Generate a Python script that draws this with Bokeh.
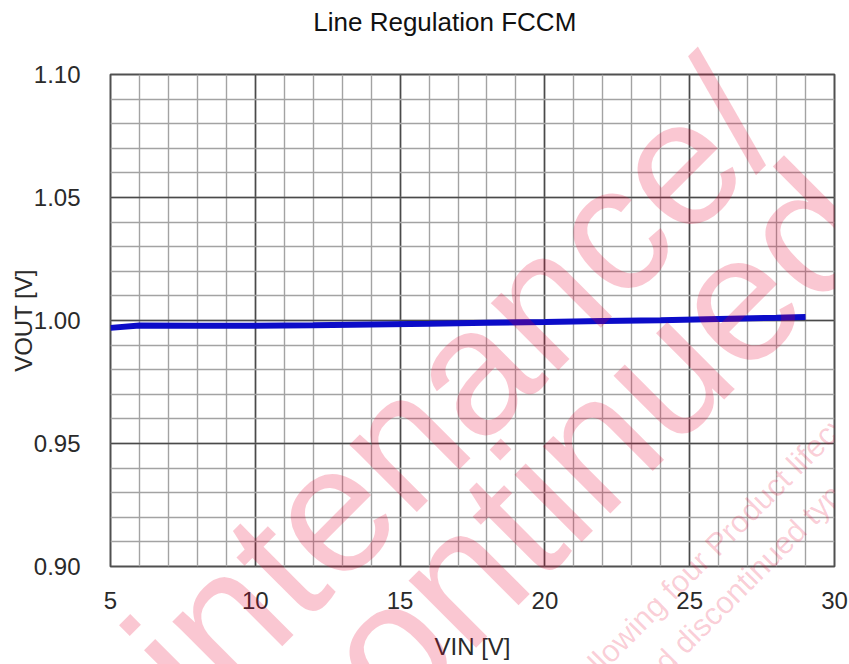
import math
from bokeh.plotting import figure
from bokeh.models import FixedTicker, Range1d
from bokeh.layouts import column
from bokeh.core.properties import value
from bokeh.embed import file_html
from bokeh.resources import INLINE

# ---- data ----
vin = [5, 6, 8, 10, 12, 14, 16, 18, 20, 22, 24, 26, 28, 29]
vout = [0.9970, 0.9980, 0.9979, 0.9979, 0.9981, 0.9984, 0.9987, 0.9991,
        0.9994, 0.9998, 1.0001, 1.0006, 1.0011, 1.0014]

x_major = [5, 10, 15, 20, 25, 30]
x_minor = list(range(5, 31))
y_major = [0.90, 0.95, 1.00, 1.05, 1.10]
y_minor = [round(0.90 + 0.01 * i, 2) for i in range(21)]
y_labels = {0.90: "0.90", 0.95: "0.95", 1.00: "1.00", 1.05: "1.05", 1.10: "1.10"}

title_text = "Line Regulation FCCM"
x_label = "VIN [V]"
y_label = "VOUT [V]"

# watermark texts of the scanned datasheet page
wm_big = ["maintenance/", "discontinued"]
wm_small = ["following four Product lifecycle", "named discontinued type"]

FONT = "Liberation Sans"
W, H = 849, 664

p = figure(width=W, height=H, output_backend="svg", toolbar_location=None,
           x_range=Range1d(5, 30), y_range=Range1d(0.90, 1.10),
           min_border_left=110, min_border_right=15, min_border_top=74,
           min_border_bottom=98)

for ax in (p.xaxis[0], p.yaxis[0]):
    ax.axis_line_color = None
    ax.major_tick_out = 0
    ax.major_tick_in = 0
    ax.minor_tick_out = 0
    ax.minor_tick_in = 0
    ax.major_label_text_font = FONT
    ax.major_label_text_font_size = "24px"
    ax.major_label_text_color = "#2a2a2a"
    ax.axis_label_text_font = FONT
    ax.axis_label_text_font_size = "24px"
    ax.axis_label_text_font_style = "normal"
    ax.axis_label_text_color = "#2a2a2a"

p.xaxis.ticker = FixedTicker(ticks=x_major, minor_ticks=x_minor)
p.yaxis.ticker = FixedTicker(ticks=y_major, minor_ticks=y_minor)
p.yaxis.major_label_overrides = y_labels
p.xaxis.axis_label = x_label
p.yaxis.axis_label = y_label
p.xaxis.major_label_standoff = 25
p.xaxis.axis_label_standoff = 21
p.yaxis.major_label_standoff = 30
p.yaxis.axis_label_standoff = -6

p.xgrid.grid_line_color = "#4a4a4a"
p.ygrid.grid_line_color = "#4a4a4a"
p.xgrid.grid_line_width = 1.6
p.ygrid.grid_line_width = 1.6
p.xgrid.minor_grid_line_color = "#a3a3a3"
p.ygrid.minor_grid_line_color = "#a3a3a3"
p.xgrid.minor_grid_line_width = 1.4
p.ygrid.minor_grid_line_width = 1.4

p.outline_line_color = "#505050"
p.outline_line_width = 2
p.background_fill_color = "white"
p.border_fill_color = "white"

p.line(vin, vout, line_color="#0c0cc8", line_width=6)

# ---- transparent overlay for the title and the pink watermark,
#      which spill outside the plot frame ----
ov = figure(width=W, height=H, output_backend="svg", toolbar_location=None,
            x_range=Range1d(0, W), y_range=Range1d(0, H),
            x_axis_type=None, y_axis_type=None, min_border=0,
            background_fill_alpha=0, border_fill_alpha=0,
            outline_line_color=None)
ov.grid.visible = False
ov.title.text = ""
ov.styles = {"position": "absolute", "top": "0px", "left": "0px",
             "pointer-events": "none"}

# chart title above the frame
ov.text(x=[392], y=[H - 21], text=[title_text], text_font=value(FONT),
        text_font_size="26px", text_color="#111111", text_align="center",
        text_baseline="middle")

wm_color = "#e60032"
ang = math.radians(45)
big_px = [(-151, 858), (18, 909)]
small_px = [(545, 685), (580, 721)]
ov.text(x=[a for a, b in big_px], y=[H - b for a, b in big_px], text=wm_big,
        angle=ang, text_font=value(FONT), text_font_size="180px",
        text_color=wm_color, text_alpha=0.22, text_baseline="alphabetic",
        text_align="left")
ov.text(x=[a for a, b in small_px], y=[H - b for a, b in small_px], text=wm_small,
        angle=ang, text_font=value(FONT), text_font_size="31px",
        text_color=wm_color, text_alpha=0.2, text_baseline="alphabetic",
        text_align="left")

layout = column(p, ov, spacing=0)
open("out.html", "w").write(file_html(layout, INLINE))
